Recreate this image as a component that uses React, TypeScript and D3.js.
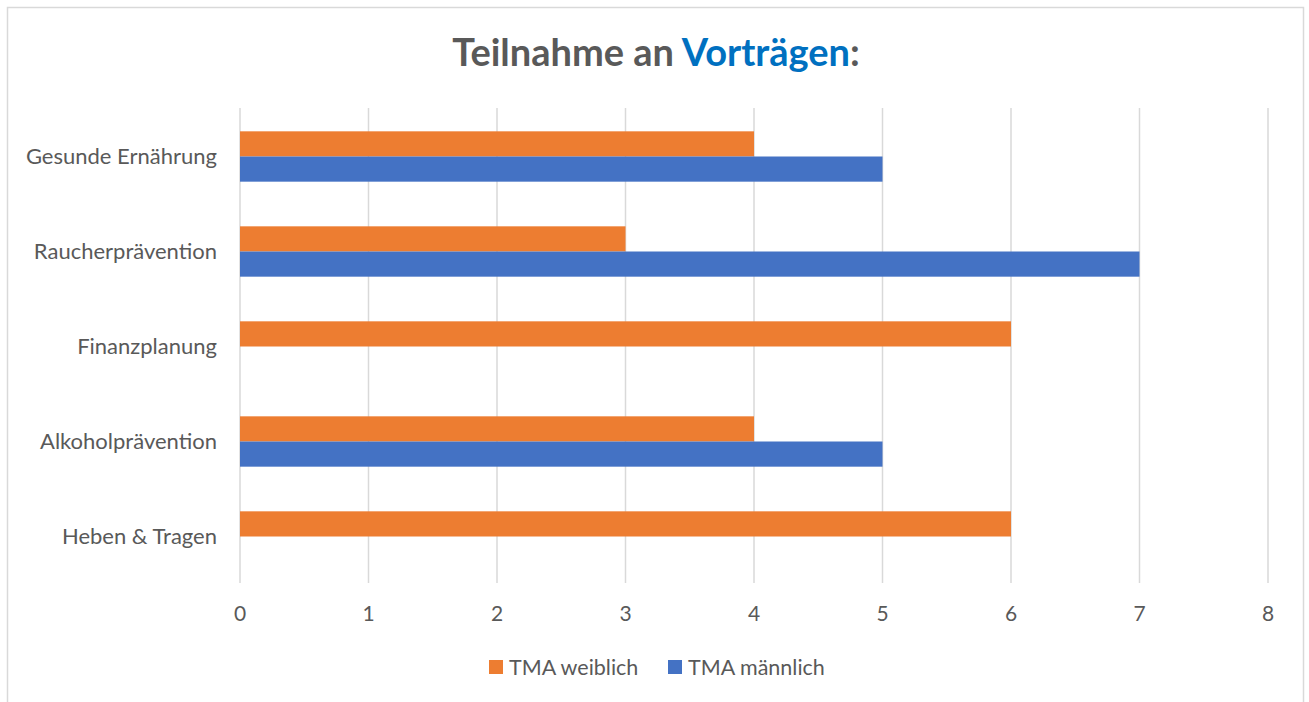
import * as d3 from "d3";

const categories = ["Gesunde Ernährung", "Raucherprävention", "Finanzplanung", "Alkoholprävention", "Heben & Tragen"];
const weiblich = [4, 3, 6, 4, 6];
const maennlich = [5, 7, 0, 5, 0];
const seriesNames = ["TMA weiblich", "TMA männlich"];
const seriesColors = ["#ED7D31", "#4472C4"];
const xTicks = [0, 1, 2, 3, 4, 5, 6, 7, 8];

export default function App() {
    const width = 1309;
    const height = 702;
    const marginLeft = 240;
    const marginRight = 41;
    const marginTop = 108;
    const plotBottom = 583;

    const x = d3.scaleLinear().domain([0, 8]).range([marginLeft, width - marginRight]);
    // category bands, slightly nudged down to match the bar placement
    const y = d3.scaleBand<string>().domain(categories).range([marginTop + 1, plotBottom + 1]).paddingInner(0.47).paddingOuter(0.235);
    const sub = d3.scaleBand<number>().domain([0, 1]).range([0, y.bandwidth()]);

    const values = [weiblich, maennlich];
    const font = "Lato, 'Open Sans', sans-serif";
    const textColor = "#595959";

    return (
        <svg width={width} height={height} style={{ position: "absolute", left: 0, top: 0 }} fontFamily={font}>
            <rect x={0} y={0} width={width} height={height} fill="#fff" />
            <rect x={7.5} y={7.5} width={1296} height={720} fill="#fff" stroke="#d9d9d9" strokeWidth={1.5} />

            <text x={656} y={66} textAnchor="middle" fontSize={38} fontWeight="bold" fill={textColor}>
                Teilnahme an <tspan fill="#0070C0">Vorträgen</tspan>:
            </text>

            {/* grid lines */}
            {xTicks.map(t => (
                <line key={t} x1={x(t)} x2={x(t)} y1={marginTop} y2={plotBottom} stroke="#d9d9d9" strokeWidth={1.5} />
            ))}

            {/* bars */}
            {categories.map((c, i) => (
                <g key={c}>
                    {values.map((vals, s) => vals[i] > 0 ? (
                        <rect key={s}
                            x={x(0)}
                            y={(y(c) ?? 0) + (sub(s) ?? 0)}
                            width={x(vals[i]) - x(0)}
                            height={sub.bandwidth()}
                            fill={seriesColors[s]} />
                    ) : null)}
                    <text x={217} y={(y(c) ?? 0) + y.bandwidth() / 2} dy="0.35em" textAnchor="end" fontSize={22} fill={textColor}>{c}</text>
                </g>
            ))}

            {/* x tick labels */}
            {xTicks.map(t => (
                <text key={t} x={x(t)} y={614} dy="0.35em" textAnchor="middle" fontSize={21} fill={textColor}>{t}</text>
            ))}

            {/* legend */}
            {seriesNames.map((n, i) => {
                const lx = [489, 668][i];
                return (
                    <g key={n}>
                        <rect x={lx} y={660} width={14} height={14} fill={seriesColors[i]} />
                        <text x={lx + 20} y={667} dy="0.35em" fontSize={21.5} fill={textColor}>{n}</text>
                    </g>
                );
            })}
        </svg>
    );
}
